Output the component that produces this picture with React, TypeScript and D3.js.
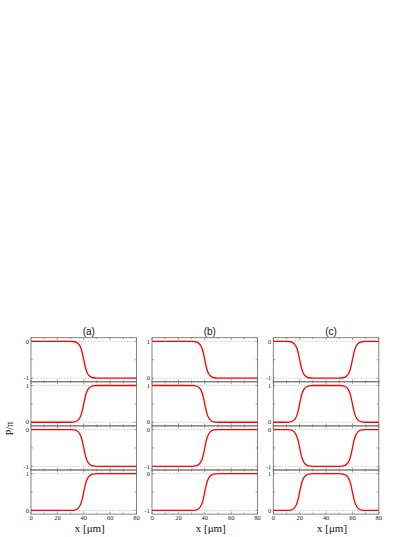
import React from 'react';
import * as d3 from 'd3';

const xsAB = [0, 30, 33, 35, 36, 37, 38, 39, 40, 41, 42, 43, 44, 45, 47, 50, 80];
const zeroToMinusOne = [0, 0, -0.01, -0.04, -0.07, -0.12, -0.2, -0.33, -0.5, -0.67, -0.8, -0.88, -0.93, -0.96, -0.99, -1, -1];
const zeroToOne = [0, 0, 0.01, 0.04, 0.07, 0.12, 0.2, 0.33, 0.5, 0.67, 0.8, 0.88, 0.93, 0.96, 0.99, 1, 1];
const oneToZero = [1, 1, 0.99, 0.96, 0.93, 0.88, 0.8, 0.67, 0.5, 0.33, 0.2, 0.12, 0.07, 0.04, 0.01, 0, 0];
const minusOneToZero = [-1, -1, -0.99, -0.96, -0.93, -0.88, -0.8, -0.67, -0.5, -0.33, -0.2, -0.12, -0.07, -0.04, -0.01, 0, 0];

const xsC = [0, 10, 13, 15, 16, 17, 18, 19, 20, 21, 22, 23, 24, 25, 27, 30, 40, 50, 53, 55, 56, 57, 58, 59, 60, 61, 62, 63, 64, 65, 67, 70, 80];
const wellDown = [0, 0, -0.01, -0.04, -0.07, -0.12, -0.2, -0.33, -0.5, -0.67, -0.8, -0.88, -0.93, -0.96, -0.99, -1, -1, -1, -0.99, -0.96, -0.93, -0.88, -0.8, -0.67, -0.5, -0.33, -0.2, -0.12, -0.07, -0.04, -0.01, 0, 0];
const wellUp = [0, 0, 0.01, 0.04, 0.07, 0.12, 0.2, 0.33, 0.5, 0.67, 0.8, 0.88, 0.93, 0.96, 0.99, 1, 1, 1, 0.99, 0.96, 0.93, 0.88, 0.8, 0.67, 0.5, 0.33, 0.2, 0.12, 0.07, 0.04, 0.01, 0, 0];

const panelTitles = ['(a)', '(b)', '(c)'];
const panelXs = [xsAB, xsAB, xsC];
const panelCurves = [
  [zeroToMinusOne, zeroToOne, zeroToMinusOne, zeroToOne],
  [oneToZero, oneToZero, minusOneToZero, minusOneToZero],
  [wellDown, wellUp, wellDown, wellUp],
];
const xTickLabels = [0, 20, 40, 60, 80];

const serif = '"Liberation Serif", "DejaVu Serif", serif';
const sans = '"Liberation Sans", Arial, sans-serif';

const App = () => {
  const lefts = [31, 152, 273.3];
  const pw = 105.5;
  const top = 337.7;
  const rowH = 44.1;

  const panels = panelTitles.map((title, p) => {
    const left = lefts[p];
    const x = d3.scaleLinear().domain([0, 80]).range([left, left + pw]);
    const rows = panelCurves[p].map((ys, r) => {
      const positive = d3.max(ys) > 0.5;
      const domain = positive ? [-0.1, 1.1] : [-1.1, 0.1];
      const levels = positive ? [0, 1] : [-1, 0];
      const y0 = top + r * rowH;
      const y = d3.scaleLinear().domain(domain).range([y0 + rowH, y0]);
      const pts = panelXs[p].map((xv, i) => [xv, ys[i]] as [number, number]);
      const line = d3.line<[number, number]>()
        .x(d => x(d[0]))
        .y(d => y(d[1]))
        .curve(d3.curveMonotoneX);
      return (
        <g key={r}>
          {levels.map(l => (
            <line key={'g' + l} x1={left} x2={left + pw} y1={y(l)} y2={y(l)}
              stroke="#aaa" strokeWidth={0.6} strokeDasharray="1.5,1.5" />
          ))}
          {d3.range(0, 81, 10).map(t => (
            <g key={'t' + t}>
              <line x1={x(t)} x2={x(t)} y1={y0 + rowH} y2={y0 + rowH - (t % 20 === 0 ? 2.5 : 1.5)} stroke="#666" strokeWidth={0.6} />
              <line x1={x(t)} x2={x(t)} y1={y0} y2={y0 + (t % 20 === 0 ? 2.5 : 1.5)} stroke="#666" strokeWidth={0.6} />
            </g>
          ))}
          {[domain[0] + 0.1, domain[0] + 0.6, domain[1] - 0.1].map((t, i) => (
            <g key={'y' + i}>
              <line x1={left} x2={left + 2} y1={y(t)} y2={y(t)} stroke="#666" strokeWidth={0.6} />
              <line x1={left + pw} x2={left + pw - 2} y1={y(t)} y2={y(t)} stroke="#666" strokeWidth={0.6} />
            </g>
          ))}
          <path d={line(pts) ?? ''} fill="none" stroke="#ff0000" strokeWidth={1.3} />
          <rect x={left} y={y0} width={pw} height={rowH} fill="none" stroke="#666" strokeWidth={0.8} />
          {levels.map(l => (
            <text key={'l' + l} x={left - 2} y={y(l) + 2.2} textAnchor="end"
              fontFamily={serif} fontSize={6.5} fill="#222">{l}</text>
          ))}
        </g>
      );
    });
    return (
      <g key={title}>
        {rows}
        {xTickLabels.map(t => (
          <text key={t} x={x(t)} y={519.5} textAnchor="middle" fontFamily={serif} fontSize={6.5} fill="#222">{t}</text>
        ))}
        <text x={left + pw / 2 + 5} y={335} textAnchor="middle" fontFamily={sans} fontSize={10} fill="#111">{title}</text>
        <text x={left + pw / 2 + 6} y={532} textAnchor="middle" fontFamily={serif} fontSize={11} fill="#111">x [μm]</text>
      </g>
    );
  });

  return (
    <svg width={415} height={537} style={{ position: 'absolute', left: 0, top: 0 }}>
      <rect width={415} height={537} fill="#fff" />
      {panels}
      <text transform="translate(12.5,428.5) rotate(-90)" textAnchor="middle" fontFamily={serif} fontSize={10} fill="#111">P/π</text>
    </svg>
  );
};

export default App;
